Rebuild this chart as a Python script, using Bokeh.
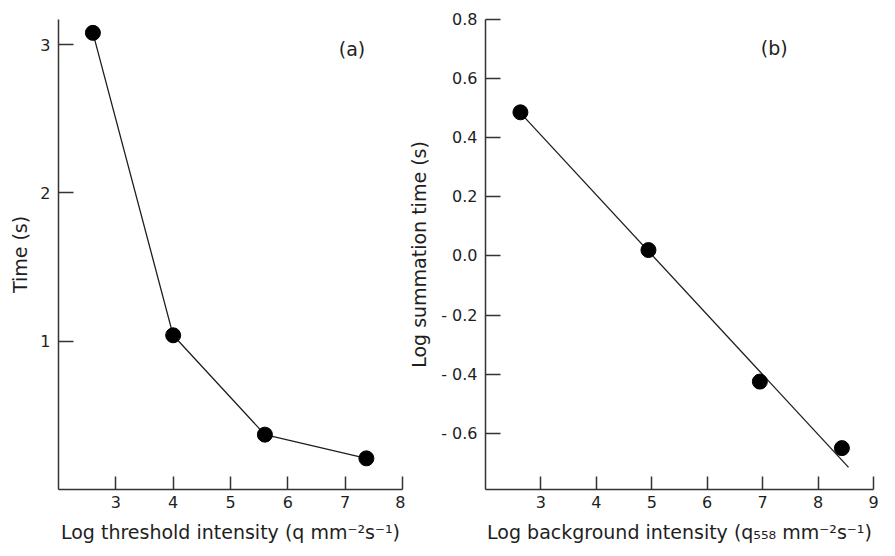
from bokeh.plotting import figure
from bokeh.layouts import row
from bokeh.models import Range1d, FixedTicker, Label
from bokeh.embed import file_html
from bokeh.resources import INLINE

# ---- data: panel (a) ----
a_x = [2.6, 4.0, 5.6, 7.37]
a_y = [3.08, 1.04, 0.37, 0.21]
a_xticks = [3, 4, 5, 6, 7, 8]
a_yticks = [1, 2, 3]

# ---- data: panel (b) ----
b_x = [2.63, 4.94, 6.95, 8.43]
b_y = [0.486, 0.02, -0.425, -0.65]
b_fit_x = [2.6, 8.55]
b_fit_y = [0.49, -0.715]
b_xticks = [3, 4, 5, 6, 7, 8, 9]
b_yticks = [-0.6, -0.4, -0.2, 0.0, 0.2, 0.4, 0.6, 0.8]

FONT = "DejaVu Sans"
INK = "#1e1e1e"


def style(p, xticks, yticks, y_label_standoff):
    p.xgrid.visible = False
    p.ygrid.visible = False
    p.outline_line_color = None
    for ax in (p.xaxis[0], p.yaxis[0]):
        ax.axis_line_color = "#333333"
        ax.axis_line_width = 1.5
        ax.major_tick_line_color = "#333333"
        ax.major_tick_line_width = 1.5
        ax.major_tick_out = 0
        ax.minor_tick_line_color = None
        ax.major_label_text_font = FONT
        ax.major_label_text_font_size = "16px"
        ax.major_label_text_color = INK
        ax.axis_label_text_font = FONT
        ax.axis_label_text_font_size = "19px"
        ax.axis_label_text_font_style = "normal"
        ax.axis_label_text_color = INK
    p.xaxis[0].ticker = FixedTicker(ticks=xticks)
    p.yaxis[0].ticker = FixedTicker(ticks=yticks)
    p.xaxis[0].major_tick_in = 13
    p.yaxis[0].major_tick_in = 15
    p.xaxis[0].major_label_standoff = 6
    p.yaxis[0].major_label_standoff = 8
    p.xaxis[0].axis_label_standoff = 10
    p.yaxis[0].axis_label_standoff = y_label_standoff


# ---- panel (a) ----
pa = figure(width=405, height=548, output_backend="svg", toolbar_location=None,
            x_range=Range1d(2, 8), y_range=Range1d(0, 3.17),
            min_border_left=58, min_border_right=3, min_border_top=17, min_border_bottom=59,
            background_fill_color="white", border_fill_color="white")
pa.xaxis.axis_label = "Log threshold intensity (q mm\u207b\u00b2s\u207b\u00b9)"
pa.yaxis.axis_label = "Time (s)"
style(pa, a_xticks, a_yticks, 6)
pa.line(a_x, a_y, line_color=INK, line_width=1.3)
pa.scatter(a_x, a_y, size=15, fill_color="black", line_color="black")
pa.add_layout(Label(x=7.12, y=2.97, text="(a)", text_font=FONT, text_font_size="19px",
                    text_color=INK, text_align="center", text_baseline="middle"))

# ---- panel (b) ----
pb = figure(width=482, height=548, output_backend="svg", toolbar_location=None,
            x_range=Range1d(2, 9), y_range=Range1d(-0.79, 0.8),
            min_border_left=77, min_border_right=14, min_border_top=19, min_border_bottom=57,
            background_fill_color="white", border_fill_color="white")
pb.xaxis.axis_label = "Log background intensity (q\u2085\u2085\u2088 mm\u207b\u00b2s\u207b\u00b9)"
pb.yaxis.axis_label = "Log summation time (s)"
style(pb, b_xticks, b_yticks, 8)
pb.yaxis[0].major_label_overrides = {v: ("- %.1f" % abs(v) if v < 0 else "%.1f" % v) for v in b_yticks}
pb.line(b_fit_x, b_fit_y, line_color=INK, line_width=1.3)
pb.scatter(b_x, b_y, size=15, fill_color="black", line_color="black")
pb.add_layout(Label(x=7.21, y=0.705, text="(b)", text_font=FONT, text_font_size="19px",
                    text_color=INK, text_align="center", text_baseline="middle"))

layout = row(pa, pb)
open("out.html", "w").write(file_html(layout, INLINE))
